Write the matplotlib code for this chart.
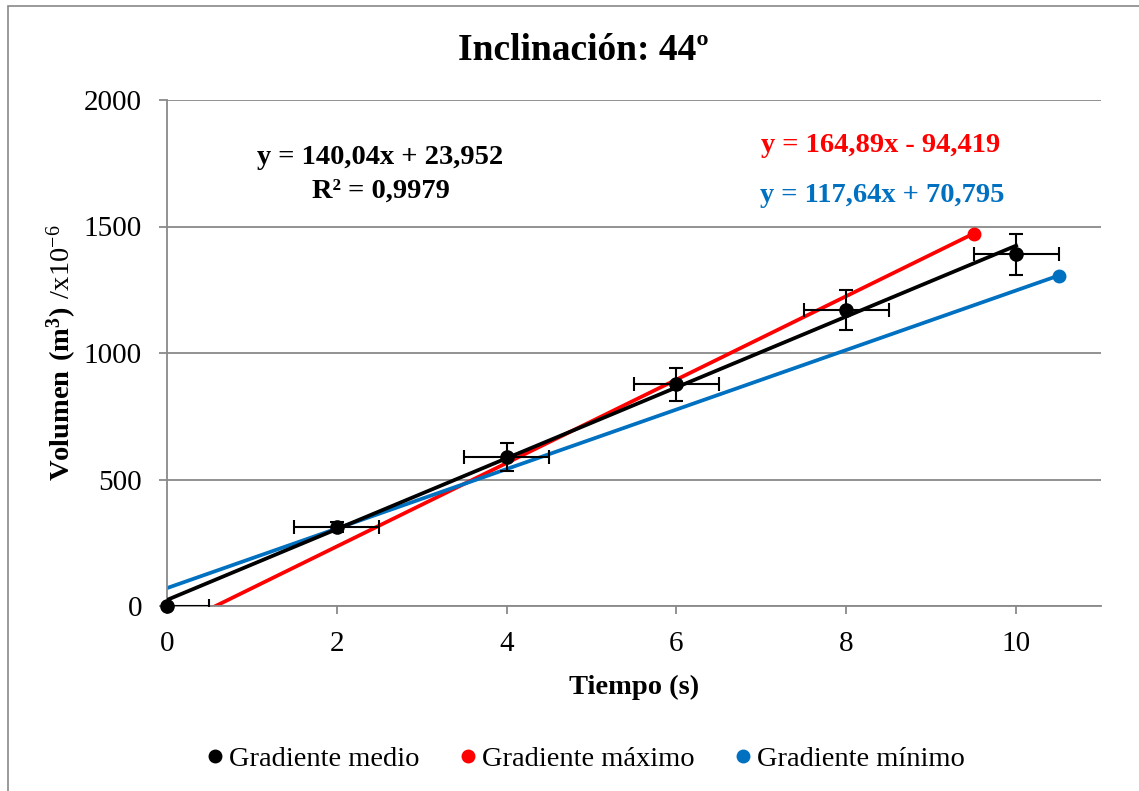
import matplotlib.pyplot as plt
import matplotlib.patches as mpatches
from matplotlib.lines import Line2D
import numpy as np

plt.rcParams['font.family'] = ['Liberation Serif', 'DejaVu Serif']
plt.rcParams['mathtext.fontset'] = 'custom'
plt.rcParams['mathtext.rm'] = 'Liberation Serif'
plt.rcParams['mathtext.bf'] = 'Liberation Serif:bold'

### Datos

tiempo = [0, 2, 4, 6, 8, 10]
volumen = [0, 311, 590, 876, 1170, 1390]
err_t = [0.5, 0.5, 0.5, 0.5, 0.5, 0.5]
err_v = [0, 20, 56, 66, 79, 82]

# gradientes (pendiente, ordenada) y tramo en x
medio = (140.04, 23.952)
maximo = (164.89, -94.419)
minimo = (117.64, 70.795)
x_medio = [0, 10]
x_max = [0.5, 9.5]
x_min = [0, 10.5]

gris = '#898989'
rojo = '#FF0000'
azul = '#0070C0'

fig = plt.figure(figsize=(11.39, 7.91), dpi=100)
ax = fig.add_axes([167/1139, 1-606/791, (1101-167)/1139, (606-100)/791])

fig.patches.append(mpatches.Rectangle((8/1139, -0.1), 1.2, 1-6/791+0.1, transform=fig.transFigure,
                                      fill=False, edgecolor=gris, linewidth=1.2))

ax.errorbar(tiempo, volumen, xerr=err_t, yerr=err_v, fmt='none', ecolor='black',
            elinewidth=1.5, capsize=5, capthick=1.5, zorder=3)
ax.plot(tiempo, volumen, 'o', color='black', markersize=9.5, zorder=4, clip_on=False)

xm = np.array(x_medio)
ax.plot(xm, medio[0]*xm+medio[1], color='black', lw=2.7, zorder=3)
xa = np.array(x_max)
ax.plot(xa, maximo[0]*xa+maximo[1], color=rojo, lw=2.7, marker='o', markevery=[1], markersize=9, zorder=2)
xb = np.array(x_min)
ax.plot(xb, minimo[0]*xb+minimo[1], color=azul, lw=2.7, marker='o', markevery=[1], markersize=9, zorder=2)

ax.set_xlim(0, 11)
ax.set_ylim(0, 2000)
ax.set_xticks([0, 2, 4, 6, 8, 10])
ax.set_yticks([0, 500, 1000, 1500, 2000])
ax.grid(axis='y', color=gris, lw=1.3)
ax.set_axisbelow(True)
for s in ['top', 'right']:
    ax.spines[s].set_visible(False)
for s in ['left', 'bottom']:
    ax.spines[s].set_color(gris)
    ax.spines[s].set_linewidth(1.3)
ax.tick_params(colors=gris, labelcolor='black', labelsize=21, length=6, width=1.3)
ax.tick_params(axis='y', pad=12)
ax.tick_params(axis='x', pad=12)

fig.text(634/1139, 1-687/791, 'Tiempo (s)', fontsize=20.5, fontweight='bold', ha='center', va='center')
fig.text(62/1139, 1-353/791, r'$\mathbf{Volumen\ (m^3)}\ \mathrm{/x10^{-6}}$', fontsize=20.5,
         rotation=90, ha='center', va='center')
fig.text(583/1139, 1-51/791, 'Inclinación: 44º', fontsize=27, fontweight='bold', ha='center', va='center')

fig.text(380/1139, 1-158/791, 'y = 140,04x + 23,952', fontsize=20.5, fontweight='bold', ha='center', va='center')
fig.text(381/1139, 1-191/791, 'R² = 0,9979', fontsize=20.5, fontweight='bold', ha='center', va='center')
fig.text(881/1139, 1-145/791, 'y = 164,89x - 94,419', fontsize=20.5, fontweight='bold', color=rojo, ha='center', va='center')
fig.text(882/1139, 1-195/791, 'y = 117,64x + 70,795', fontsize=20.5, fontweight='bold', color=azul, ha='center', va='center')

handles = [Line2D([], [], ls='', marker='o', color=c, markersize=9) for c in ['black', rojo, azul]]
fig.legend(handles, ['Gradiente medio', 'Gradiente máximo', 'Gradiente mínimo'], loc='center',
           bbox_to_anchor=(583/1139, 1-759/791), ncol=3, frameon=False, fontsize=20.5,
           handletextpad=0.0, columnspacing=1.2, handlelength=1.0)

fig.savefig('out.png', dpi=100)
